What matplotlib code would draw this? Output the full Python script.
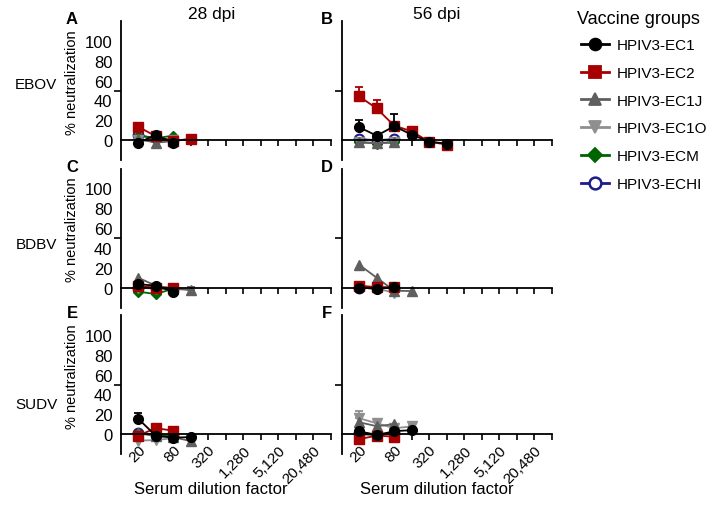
import numpy as np
import matplotlib
matplotlib.use('Agg')
import matplotlib.pyplot as plt
from matplotlib.lines import Line2D

plt.rcParams['font.family'] = ['Liberation Sans', 'DejaVu Sans']

# serum dilutions (x) and vaccine groups
dilutions = [20, 40, 80, 160, 320, 640]
groups = ['HPIV3-EC1', 'HPIV3-EC2', 'HPIV3-EC1J', 'HPIV3-EC1O', 'HPIV3-ECM', 'HPIV3-ECHI']
tick_dil = [20 * 2 ** k for k in range(12)]
tick_labels = ['20', '80', '320', '1,280', '5,120', '20,480']

# % neutralization per panel (values start at dilution 20)
ebov_28 = {'HPIV3-EC1': [-2.5, 5, -2.5], 'HPIV3-EC2': [13.5, 4, -1, 1.5],
           'HPIV3-EC1J': [1, -2.5, -1], 'HPIV3-EC1O': [0, -1, 0],
           'HPIV3-ECM': [4.5, 2, 4.5], 'HPIV3-ECHI': [5, 2, 0]}
ebov_56 = {'HPIV3-EC1': [13, 4.5, 14, 5.5, -1.5, -3.5], 'HPIV3-EC2': [44, 32, 14.5, 9, -1.7, -4.4],
           'HPIV3-EC1J': [-2, -3, -2], 'HPIV3-EC1O': [-2, -3, -2],
           'HPIV3-ECM': [-2, -3.5, -2], 'HPIV3-ECHI': [1, 0, 1]}
bdbv_28 = {'HPIV3-EC1': [3.5, 2, -4], 'HPIV3-EC2': [1.5, 0, 0],
           'HPIV3-EC1J': [10, 2, -1, -2.5], 'HPIV3-EC1O': [0, -1, -2],
           'HPIV3-ECM': [-4, -6.5, -1], 'HPIV3-ECHI': [0, 0, -1]}
bdbv_56 = {'HPIV3-EC1': [0, -1, 0.5], 'HPIV3-EC2': [2, 0.5, 0.5],
           'HPIV3-EC1J': [23, 10, -3, -3.5], 'HPIV3-EC1O': [0, -1, -5],
           'HPIV3-ECM': [0, -1, 0], 'HPIV3-ECHI': [0, 0, 0]}
sudv_28 = {'HPIV3-EC1': [15.5, -1.5, -3.5, -3], 'HPIV3-EC2': [-1.5, 6, 3.5],
           'HPIV3-EC1J': [1, -2, -3, -7], 'HPIV3-EC1O': [-6.5, -6, -4],
           'HPIV3-ECM': [1.5, -1, -2], 'HPIV3-ECHI': [1, -1, -2]}
sudv_56 = {'HPIV3-EC1': [3, -1, 3, 4], 'HPIV3-EC2': [-5, -1.5, -2.5],
           'HPIV3-EC1J': [12, 8, 10], 'HPIV3-EC1O': [16, 11, 6, 7.7],
           'HPIV3-ECM': [0, -1, 1], 'HPIV3-ECHI': [1, 0, 1]}

# upper error bars (SEM), only where visible
ebov_28_err = {'HPIV3-EC2': [4, 0, 0, 0]}
ebov_56_err = {'HPIV3-EC1': [7, 0, 12, 0, 0, 0], 'HPIV3-EC2': [10, 8, 0, 0, 0, 0]}
bdbv_28_err = {'HPIV3-EC1J': [0, 0, 0, 3]}
bdbv_56_err = {}
sudv_28_err = {'HPIV3-EC1': [6, 0, 0, 0]}
sudv_56_err = {'HPIV3-EC1O': [7, 0, 0, 3]}

styles = {
    'HPIV3-EC1': dict(color='black', marker='o', ms=7, mfc='black'),
    'HPIV3-EC2': dict(color='#a80000', marker='s', ms=7, mfc='#a80000'),
    'HPIV3-EC1J': dict(color='#5f5f5f', marker='^', ms=7, mfc='#5f5f5f'),
    'HPIV3-EC1O': dict(color='#8f8f8f', marker='v', ms=7, mfc='#8f8f8f'),
    'HPIV3-ECM': dict(color='#006400', marker='D', ms=5.5, mfc='#006400'),
    'HPIV3-ECHI': dict(color='#1c1c8a', marker='o', ms=7, mfc='white', mew=1.5),
}
draw_order = ['HPIV3-ECHI', 'HPIV3-ECM', 'HPIV3-EC1O', 'HPIV3-EC1J', 'HPIV3-EC2', 'HPIV3-EC1']

W, H = 714, 506
fig = plt.figure(figsize=(W / 100, H / 100), dpi=100)

lefts = [120.7, 341.7]
tops = [22, 169.5, 316]
ax_w, ax_h = 210, 139

panels = [[(ebov_28, ebov_28_err), (ebov_56, ebov_56_err)],
          [(bdbv_28, bdbv_28_err), (bdbv_56, bdbv_56_err)],
          [(sudv_28, sudv_28_err), (sudv_56, sudv_56_err)]]
letters = [['A', 'B'], ['C', 'D'], ['E', 'F']]
letter_x = [72, 327]
viruses = ['EBOV', 'BDBV', 'SUDV']
virus_y = [85, 245, 405]

for r in range(3):
    for c in range(2):
        ax = fig.add_axes([lefts[c] / W, 1 - (tops[r] + ax_h) / H, ax_w / W, ax_h / H])
        data, errs = panels[r][c]
        for g in draw_order:
            vals = data[g]
            xs = dilutions[:len(vals)]
            st = styles[g]
            if g in errs:
                e = np.array(errs[g], dtype=float)
                m = e > 0
                ax.errorbar(np.array(xs)[m], np.array(vals)[m],
                            yerr=[np.zeros(m.sum()), e[m]], fmt='none',
                            ecolor=st['color'], elinewidth=1.3, capsize=3, capthick=1.3)
            ax.plot(xs, vals, color=st['color'], marker=st['marker'], ms=st['ms'],
                    mfc=st['mfc'], mec=st['color'], mew=st.get('mew', 1), lw=1.3)
        ax.set_xscale('log', base=2)
        ax.set_xlim(10, 40960)
        ax.set_ylim(-20, 120)
        ax.spines['top'].set_visible(False)
        ax.spines['right'].set_visible(False)
        ax.spines['bottom'].set_position(('data', 0))
        ax.spines['left'].set_linewidth(1.3)
        ax.spines['bottom'].set_linewidth(1.3)
        ax.set_xticks(tick_dil)
        ax.xaxis.set_minor_locator(matplotlib.ticker.NullLocator())
        if r == 2:
            ax.set_xticklabels([tick_labels[i // 2] if i % 2 == 0 else '' for i in range(12)],
                               rotation=45, ha='right', rotation_mode='anchor', fontsize=11)
        else:
            ax.set_xticklabels([])
        ax.tick_params(axis='x', direction='out', length=4, width=1.2, pad=2)
        ax.set_yticks([0, 20, 40, 60, 80, 100])
        ax.set_yticks([0, 50, 100], minor=True)
        ax.tick_params(axis='y', which='major', length=0, pad=6, labelsize=12)
        ax.tick_params(axis='y', which='minor', length=5, width=1.2, direction='out')
        if c == 0:
            ax.set_ylabel('% neutralization', fontsize=10.5)
            ax.yaxis.set_label_coords(-0.198, 0.565)
        else:
            ax.set_yticklabels([])
        fig.text(letter_x[c] / W, 1 - (tops[r] - 2) / H, letters[r][c], fontsize=12,
                 fontweight='bold', ha='center', va='center')
    fig.text(36 / W, 1 - virus_y[r] / H, viruses[r], fontsize=11, ha='center', va='center')

fig.text(212 / W, 1 - 15 / H, '28 dpi', fontsize=12.5, ha='center', va='center')
fig.text(437 / W, 1 - 15 / H, '56 dpi', fontsize=12.5, ha='center', va='center')
fig.text(211 / W, 1 - 490 / H, 'Serum dilution factor', fontsize=12, ha='center', va='center')
fig.text(437 / W, 1 - 490 / H, 'Serum dilution factor', fontsize=12, ha='center', va='center')

# legend title drawn separately so its gap to the entries can be set
fig.text(577 / W, 1 - 20 / H, 'Vaccine groups', fontsize=13, ha='left', va='center')
handles = []
for g in groups:
    st = styles[g]
    handles.append(Line2D([], [], color=st['color'], marker=st['marker'], ms=st['ms'] + 1.5,
                          mfc=st['mfc'], mec=st['color'], mew=st.get('mew', 1) + 0.3, lw=2))
leg = fig.legend(handles, groups, loc='upper left', bbox_to_anchor=(569 / W, 1 - 27 / H),
                 frameon=False, fontsize=11, labelspacing=0.9, handlelength=1.8,
                 handletextpad=0.5, borderpad=0.3)

fig.savefig('out.png', dpi=100)
